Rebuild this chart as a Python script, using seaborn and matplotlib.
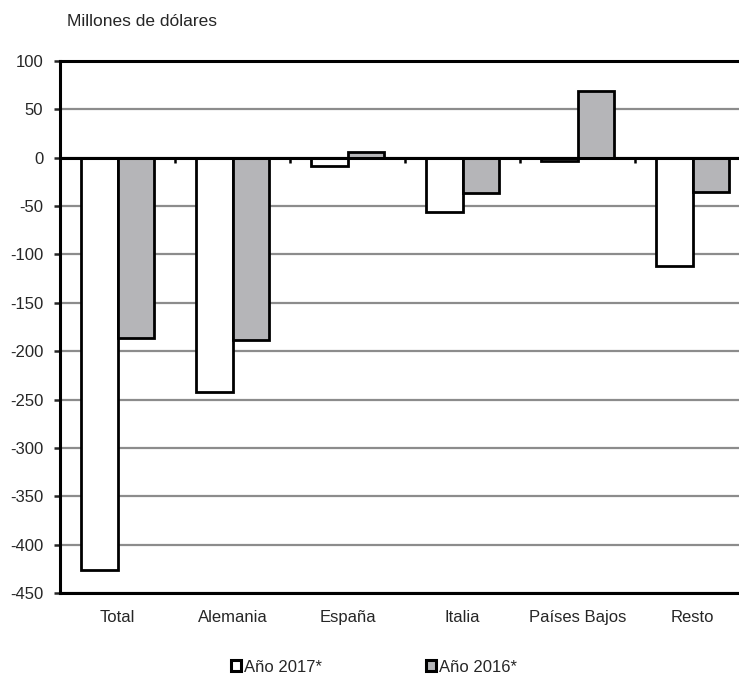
import pandas as pd
import numpy as np
import matplotlib.pyplot as plt
import seaborn as sns
from matplotlib.patches import Patch

# values (millones de dolares)
paises = ['Total', 'Alemania', 'España', 'Italia', 'Países Bajos', 'Resto']
anio_2017 = [-426, -242, -9, -56, -3, -112]
anio_2016 = [-186, -188, 6, -36, 69, -35]
series = ['Año 2017*', 'Año 2016*']
yticks = list(range(-450, 101, 50))

df = pd.DataFrame({
    'pais': paises * 2,
    'valor': anio_2017 + anio_2016,
    'serie': [series[0]] * len(paises) + [series[1]] * len(paises),
})

sns.set_style('white')
plt.rcParams['font.family'] = ['Liberation Sans', 'DejaVu Sans']

fig = plt.figure(figsize=(7.39, 6.75), dpi=100)
ax = fig.add_axes([60 / 739, 82 / 675, 690 / 739, 532 / 675])

colores = {'Año 2017*': '#ffffff', 'Año 2016*': '#b4b5b8'}
sns.barplot(data=df, x='pais', y='valor', hue='serie', palette=colores,
            width=0.63, edgecolor='black', linewidth=2, ax=ax, legend=False,
            zorder=3)

ax.set_ylim(-450, 100)
ax.set_xlim(-0.5, len(paises) - 0.5)
ax.set_yticks(yticks)
ax.set_yticklabels([str(t) for t in yticks], fontsize=12)
ax.yaxis.grid(True, color='#8c8c8c', linewidth=1.6, zorder=0)
ax.set_axisbelow(True)
ax.axhline(0, color='black', linewidth=2.2, zorder=4)

# small tick marks at the category borders on the zero line
bordes = np.arange(0.5, len(paises) - 0.5, 1)
ax.vlines(bordes, -5, 0, color='black', linewidth=1.8, zorder=4)

ax.set_xlabel('')
ax.set_ylabel('')
ax.tick_params(axis='x', length=0, pad=12, labelsize=12)
ax.tick_params(axis='y', length=4, width=1.8, direction='out', left=True, pad=8)
for s in ax.spines.values():
    s.set_color('black')
    s.set_linewidth(2.2)

fig.text(67 / 739, 1 - 22 / 675, 'Millones de dólares', fontsize=12.5,
         ha='left', va='center')

handles = [Patch(facecolor=colores[s], edgecolor='black', linewidth=2.2) for s in series]
fig.legend(handles, series, loc='center', bbox_to_anchor=(374 / 739, 1 - 667 / 675),
           ncol=2, frameon=False, fontsize=12, handlelength=0.6, handleheight=0.65,
           handletextpad=0.2, columnspacing=6.2)

fig.savefig('out.png', dpi=100)
